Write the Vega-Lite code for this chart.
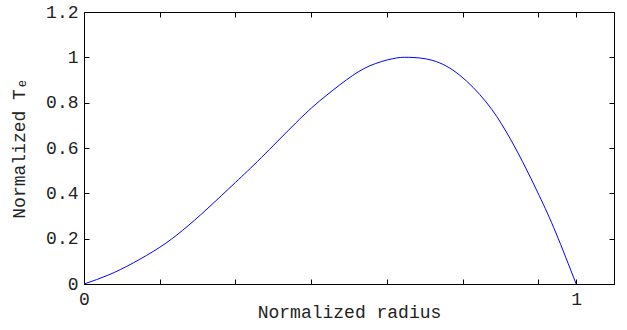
{
  "$schema": "https://vega.github.io/schema/vega-lite/v6.json",
  "width": 530,
  "height": 272,
  "autosize": {"type": "none"},
  "padding": {"left": 84, "top": 12, "right": 13, "bottom": 46},
  "background": "white",
  "config": {
    "view": {"stroke": "black", "strokeWidth": 1},
    "font": "Liberation Mono",
    "axis": {
      "grid": false,
      "domainColor": "black",
      "domainWidth": 1,
      "tickColor": "black",
      "tickSize": -5,
      "tickWidth": 1,
      "labelFont": "Liberation Mono",
      "labelFontSize": 18,
      "labelColor": "#222222",
      "labelFlush": false,
      "labelPadding": 11,
      "titleFont": "Liberation Mono",
      "titleFontSize": 18,
      "titleFontWeight": "normal",
      "titleColor": "#222222"
    }
  },
  "data": {
    "values": [
      {"r": 0.0, "T": 0.0},
      {"r": 0.05, "T": 0.04},
      {"r": 0.1, "T": 0.093},
      {"r": 0.154, "T": 0.162},
      {"r": 0.2, "T": 0.236},
      {"r": 0.25, "T": 0.331},
      {"r": 0.3077, "T": 0.448},
      {"r": 0.36, "T": 0.557},
      {"r": 0.431, "T": 0.712},
      {"r": 0.479, "T": 0.808},
      {"r": 0.533, "T": 0.9},
      {"r": 0.58, "T": 0.962},
      {"r": 0.627, "T": 0.994},
      {"r": 0.66, "T": 1.0},
      {"r": 0.709, "T": 0.986},
      {"r": 0.763, "T": 0.922},
      {"r": 0.817, "T": 0.803},
      {"r": 0.857, "T": 0.675},
      {"r": 0.891, "T": 0.54},
      {"r": 0.925, "T": 0.39},
      {"r": 0.959, "T": 0.225},
      {"r": 1.0, "T": 0.0}
    ]
  },
  "resolve": {"axis": {"x": "independent", "y": "independent"}},
  "layer": [
    {
      "mark": {"type": "line", "color": "#0000ff", "strokeWidth": 1, "interpolate": "natural"},
      "encoding": {
        "x": {
          "field": "r", "type": "quantitative",
          "scale": {"domain": [0, 1.0769], "nice": false, "zero": false},
          "axis": {
            "title": "Normalized radius",
            "values": [0, 0.15385, 0.30769, 0.46154, 0.61538, 0.76923, 0.92308, 1],
            "labelExpr": "datum.value == 0 ? '0' : datum.value == 1 ? '1' : ''",
            "labelPadding": 11,
            "titlePadding": -5
          }
        },
        "y": {
          "field": "T", "type": "quantitative",
          "scale": {"domain": [0, 1.2], "nice": false},
          "axis": {
            "title": "Normalized Tₑ",
            "format": "~g",
            "values": [0, 0.2, 0.4, 0.6, 0.8, 1.0, 1.2],
            "titlePadding": 17
          }
        }
      }
    },
    {
      "mark": {"type": "line", "opacity": 0},
      "encoding": {
        "x": {
          "field": "r", "type": "quantitative",
          "axis": {
            "orient": "top", "title": null, "labels": false,
            "values": [0, 0.15385, 0.30769, 0.46154, 0.61538, 0.76923, 0.92308, 1]
          }
        },
        "y": {
          "field": "T", "type": "quantitative",
          "axis": {
            "orient": "right", "title": null, "labels": false,
            "values": [0, 0.2, 0.4, 0.6, 0.8, 1.0, 1.2]
          }
        }
      }
    }
  ]
}
